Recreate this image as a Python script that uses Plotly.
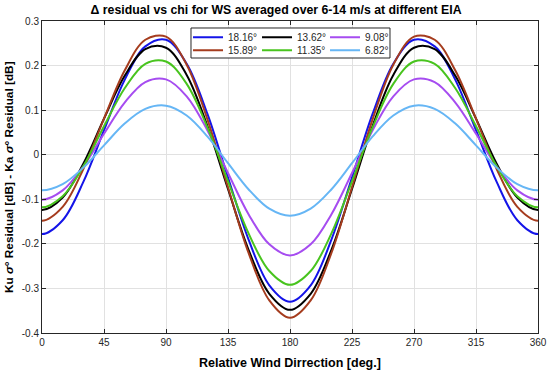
import plotly.graph_objects as go

# periodic sampling of relative wind direction (one step beyond each end so the curves enter the frame smoothly)
chi = list(range(-15, 376, 15))

half_blue   = [-0.178, -0.147, -0.061, 0.055, 0.168, 0.243, 0.258, 0.204, 0.092, -0.051, -0.191, -0.293, -0.330]
half_brown  = [-0.148, -0.117, -0.032, 0.081, 0.189, 0.258, 0.265, 0.202, 0.080, -0.073, -0.221, -0.327, -0.366]
half_black  = [-0.124, -0.096, -0.020, 0.081, 0.177, 0.237, 0.240, 0.179, 0.065, -0.077, -0.214, -0.312, -0.348]
half_green  = [-0.118, -0.093, -0.026, 0.064, 0.149, 0.204, 0.209, 0.159, 0.062, -0.060, -0.177, -0.261, -0.292]
half_purple = [-0.101, -0.080, -0.026, 0.047, 0.117, 0.163, 0.169, 0.131, 0.055, -0.041, -0.134, -0.201, -0.226]
half_lblue  = [-0.080, -0.066, -0.029, 0.021, 0.070, 0.103, 0.110, 0.088, 0.041, -0.019, -0.078, -0.121, -0.137]

def full(h):
    core = h + h[-2::-1]          # 0 .. 360
    return [h[1]] + core + [h[1]]  # -15 and 375 by symmetry

eia_18_16 = full(half_blue)
eia_15_89 = full(half_brown)
eia_13_62 = full(half_black)
eia_11_35 = full(half_green)
eia_9_08 = full(half_purple)
eia_6_82 = full(half_lblue)

labels = ["18.16°", "13.62°", "9.08°", "15.89°", "11.35°", "6.82°"]
values = [eia_18_16, eia_13_62, eia_9_08, eia_15_89, eia_11_35, eia_6_82]
colors = ["#1414e8", "#000000", "#a64cf0", "#a53c1e", "#48c41e", "#66b6f5"]

x_ticks = [0, 45, 90, 135, 180, 225, 270, 315, 360]
y_ticks = [-0.4, -0.3, -0.2, -0.1, 0, 0.1, 0.2, 0.3]
y_tick_text = ["-0.4", "-0.3", "-0.2", "-0.1", "0", "0.1", "0.2", "0.3"]

# legend grid: 3 columns x 2 rows (paper coords)
leg_cols = [0.2944, 0.4335, 0.5706]
leg_rows = [0.948, 0.906]
leg_names = ["legend", "legend2", "legend3", "legend4", "legend5", "legend6"]

font_family = "Liberation Sans, Arial, sans-serif"

fig = go.Figure()
for i, (name, vals, col) in enumerate(zip(labels, values, colors)):
    fig.add_trace(go.Scatter(x=chi, y=vals, name=name, mode="lines", legend=leg_names[i],
                             line=dict(color=col, width=2, shape="spline", smoothing=1.0)))

legends = {}
for i, ln in enumerate(leg_names):
    legends[ln] = dict(orientation="v", xref="paper", yref="paper",
                       x=leg_cols[i % 3], y=leg_rows[i // 3], xanchor="left", yanchor="middle",
                       bgcolor="rgba(0,0,0,0)", borderwidth=0,
                       font=dict(size=10, color="#262626", family=font_family))

axis_common = dict(showgrid=True, gridcolor="#e1e1e1", gridwidth=1,
                   showline=True, linecolor="#262626", linewidth=1, mirror="allticks",
                   ticks="inside", ticklen=4, tickcolor="#262626", zeroline=False,
                   automargin=False,
                   tickfont=dict(size=10, color="#262626", family=font_family))

fig.update_layout(
    width=550, height=373,
    margin=dict(l=42, r=12, t=21, b=40),
    paper_bgcolor="white", plot_bgcolor="white",
    font=dict(family=font_family, color="#000000"),
    title=dict(text="<b>Δ residual vs chi for WS averaged over 6-14 m/s at different EIA</b>",
               xref="container", yref="container",
               x=0.502, xanchor="center", y=0.973, yanchor="middle",
               font=dict(size=12.3, color="#000000")),
    xaxis=dict(range=[0, 360], tickvals=x_ticks, **axis_common),
    yaxis=dict(range=[-0.4, 0.3], tickvals=y_ticks, ticktext=y_tick_text, **axis_common),
    showlegend=True,
    shapes=[dict(type="rect", xref="paper", yref="paper",
                 x0=0.3004, x1=0.7016, y0=0.8814, y1=0.9776,
                 line=dict(color="#262626", width=1), fillcolor="white", layer="above")],
    annotations=[
        dict(text="<b>Relative Wind Dirrection [deg.]</b>", xref="paper", yref="paper",
             x=0.5, y=0, yshift=-29.5, xanchor="center", yanchor="middle", showarrow=False,
             font=dict(size=12.5, color="#000000")),
        dict(text="<b>Ku <i>σ</i>° Residual [dB] - Ka <i>σ</i>° Residual [dB]</b>", xref="paper", yref="paper",
             x=0, y=0.5, xshift=-33, xanchor="center", yanchor="middle", showarrow=False,
             textangle=-90, font=dict(size=11.8, color="#000000")),
    ],
    **legends,
)

fig.write_html("out.html", config={"displayModeBar": False},
               post_script="document.body.style.margin='0px';")
